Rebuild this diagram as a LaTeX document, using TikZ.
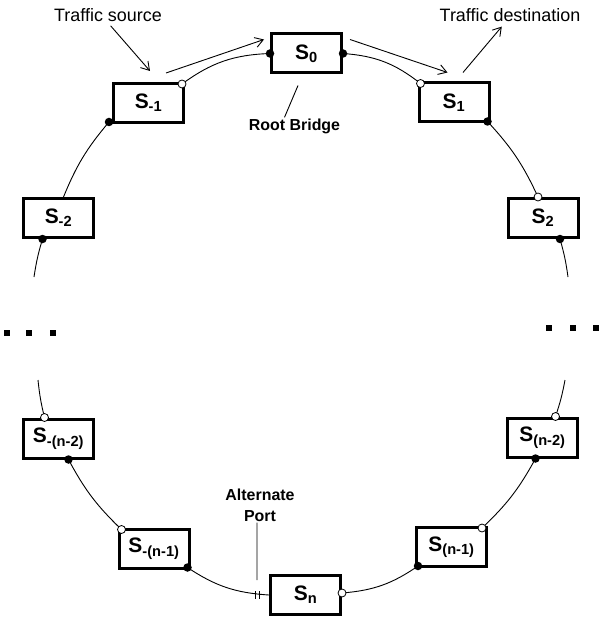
\documentclass[tikz,border=0pt]{standalone}
\usepackage{fontspec}
\setmainfont{Liberation Sans}
\usepackage{tikz}
\usetikzlibrary{arrows.meta, positioning, calc}

\begin{document}
\begin{tikzpicture}[
    x=1bp, y=-1bp,
    >={Straight Barb[length=8bp, width=10bp]},
    switch/.style={
        rectangle,
        draw=black,
        line width=3bp,
        fill=white,
        minimum width=70bp,
        minimum height=39bp,
        inner sep=0pt,
        font=\fontsize{21}{24}\selectfont\bfseries
    },
    note/.style={inner sep=1bp, font=\fontsize{18}{20}\selectfont},
    bnote/.style={inner sep=1bp, align=center, font=\fontsize{16}{21}\selectfont\bfseries},
    link/.style={line width=0.9bp, draw=black},
    seta/.style={->, line width=0.9bp, draw=black},
    openport/.style={circle, draw=black, line width=0.8bp, fill=white, inner sep=0pt, minimum size=8bp},
    fullport/.style={circle, fill=black, inner sep=0pt, minimum size=8.5bp}
]
    \useasboundingbox (0,0) rectangle (599,621);

    % --- 1. Bridges on the ring ---
    \node[switch] (s0)   at (306.5,53.5)  {S\textsubscript{0}};
    \node[switch] (sm1)  at (148.5,103)   {S\textsubscript{-1}};
    \node[switch] (s1)   at (454,102.5)   {S\textsubscript{1}};
    \node[switch] (sm2)  at (58.5,218)    {S\textsubscript{-2}};
    \node[switch] (s2)   at (543,218)     {S\textsubscript{2}};
    \node[switch] (smn2) at (58.5,438.5)  {S\textsubscript{-(n-2)}};
    \node[switch] (sn2)  at (542.5,437.5) {S\textsubscript{(n-2)}};
    \node[switch] (smn1) at (154,548.5)   {S\textsubscript{-(n-1)}};
    \node[switch] (sn1)  at (451.5,547)   {S\textsubscript{(n-1)}};
    \node[switch] (sn)   at (305.5,595)   {S\textsubscript{n}};

    % --- 2. Labels ---
    \node[note] (src) at (108,15) {Traffic source};
    \node[note] (dst) at (510,15) {Traffic destination};
    \node[bnote] (root) at (294.5,126) {Root Bridge};
    \node[bnote] (alt) at (260,505) {Alternate\\Port};

    % --- 3. Ports ---
    \coordinate (pa) at ([xshift=-3bp,yshift=-2bp]sm1.north east);
    \coordinate (pb) at (s0.west);
    \coordinate (pc) at (s0.east);
    \coordinate (pd) at ([xshift=3bp,yshift=-2bp]s1.north west);
    \coordinate (pe) at ([xshift=-3bp,yshift=2bp]s1.south east);
    \coordinate (pf) at ([xshift=-5bp]s2.north);
    \coordinate (pg) at ([xshift=17bp]s2.south);
    \coordinate (ph) at ([xshift=13bp]sn2.north);
    \coordinate (pi) at ([xshift=-7bp]sn2.south);
    \coordinate (pj) at ([xshift=-6bp,yshift=-2bp]sn1.north east);
    \coordinate (pk) at ([xshift=3bp,yshift=2bp]sn1.south west);
    \coordinate (pl) at ([yshift=2bp]sn.east);
    \coordinate (pm) at (sn.west);
    \coordinate (pn) at ([xshift=-3bp,yshift=2bp]smn1.south east);
    \coordinate (po) at ([xshift=4bp,yshift=-2bp]smn1.north west);
    \coordinate (pp) at ([xshift=10bp]smn2.south);
    \coordinate (pq) at ([xshift=-14bp]smn2.north);
    \coordinate (pr) at ([xshift=-16bp]sm2.south);
    \coordinate (ps) at ([xshift=5bp]sm2.north);
    \coordinate (pt) at ([xshift=-3bp,yshift=2bp]sm1.south west);

    % loose ends next to the dots
    \coordinate (endR1) at (568,277);
    \coordinate (endR2) at (565,380);
    \coordinate (endL1) at (34,277);
    \coordinate (endL2) at (38,380);

    % --- 4. Ring links ---
    \draw[link] (ps) to[bend left=9] (pt);
    \draw[link] (pa) to[bend left=17] (pb);
    \draw[link] (pc) to[bend left=17] (pd);
    \draw[link] (pe) to[bend left=9] (pf);
    \draw[link] (pg) to[bend left=4] (endR1);
    \draw[link] (endR2) to[bend left=4] (ph);
    \draw[link] (pi) to[bend left=9] (pj);
    \draw[link] (pk) to[bend left=15] (pl);
    \draw[link] (pm) to[bend left=15] (pn);
    \draw[link] (po) to[bend left=9] (pp);
    \draw[link] (pq) to[bend left=4] (endL2);
    \draw[link] (endL1) to[bend left=4] (pr);

    % alternate port mark
    \draw[link] ([xshift=-14bp,yshift=4bp]pm) -- ++(0,8);
    \draw[link] ([xshift=-10bp,yshift=4bp]pm) -- ++(0,8);

    \foreach \p in {pa,pd,pf,ph,pj,pl,po,pq}
        \node[openport] at (\p) {};
    \foreach \p in {pb,pc,pe,pg,pi,pk,pn,pp,pr,pt}
        \node[fullport] at (\p) {};

    % --- 5. Dots ---
    \foreach \x in {7,29,53}
        \fill (\x-3,330) rectangle ++(6,6);
    \foreach \x in {549,573,596}
        \fill (\x-3,325) rectangle ++(6,6);

    % --- 6. Traffic and pointers ---
    \draw[seta, shorten <=4bp] (src.south) -- ([xshift=1.5bp,yshift=11bp]sm1.north);
    \draw[seta] ([xshift=-19bp,yshift=9bp]sm1.north east) -- ([xshift=-6bp,yshift=14bp]s0.west);
    \draw[seta] ([xshift=7bp,yshift=14bp]s0.east) -- ([xshift=30bp,yshift=9bp]s1.north west);
    \draw[seta, shorten >=5bp] ([xshift=9bp,yshift=9bp]s1.north) -- ([xshift=-5bp]dst.south);

    \draw[link] ([xshift=-8.5bp,yshift=-11bp]s0.south) -- ([xshift=-10bp]root.north);
    \draw[link] ([xshift=-3bp]alt.south) -- ([xshift=-12bp,yshift=15bp]sn.west);
\end{tikzpicture}
\end{document}
